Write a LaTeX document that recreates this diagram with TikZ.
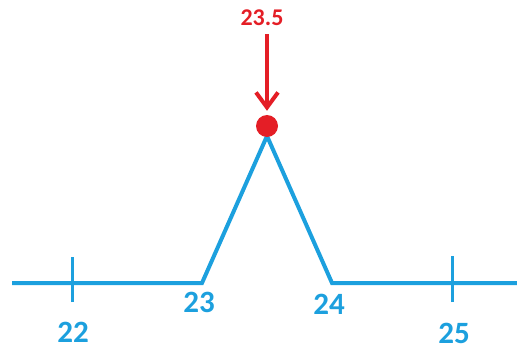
\documentclass[tikz,border=0pt]{standalone}
\usepackage{fontspec}
\setmainfont{Carlito}[BoldFont={Carlito Bold}]
\usetikzlibrary{arrows.meta, positioning}
\definecolor{axisblue}{HTML}{1CA0DE}
\definecolor{markred}{HTML}{E41E26}
\tikzset{
  axis/.style={line width=4pt, axisblue, line join=miter},
  tickmark/.style={line width=3.5pt, axisblue},
  ticklabel/.style={text=axisblue, font=\bfseries\fontsize{31}{33}\selectfont, inner sep=0pt},
  peaklabel/.style={text=markred, font=\bfseries\fontsize{24}{26}\selectfont, inner sep=0pt},
  dotmark/.style={circle, fill=markred, minimum size=22pt, inner sep=0pt},
  arrow/.style={-{Straight Barb[length=15pt, width=22pt]}, line width=4pt, markred},
}
\begin{document}
\begin{tikzpicture}[x=1pt, y=-1pt]
\useasboundingbox (0,0) rectangle (517,350);
% axis with the peak
\coordinate (start) at (12,283);
\coordinate (left) at (202,283);
\coordinate (top) at (267,136);
\coordinate (right) at (332,283);
\coordinate (end) at (517,283);
\draw[axis] (start) -- (left) -- (top) -- (right) -- (end);
% ticks
\coordinate (t22) at (72.5,283);
\coordinate (t25) at (452.5,283);
\draw[tickmark] ([yshift=-19pt]t22) -- ([yshift=26pt]t22);
\draw[tickmark] ([yshift=-19pt]t25) -- ([yshift=27pt]t25);
% labels
\node[ticklabel] (l22) at (73,332) {22};
\node[ticklabel] (l23) at (199,302) {23};
\node[ticklabel] (l24) at (329,304) {24};
\node[ticklabel] (l25) at (454,333) {25};
% peak marker
\node[dotmark] (dot) at (267,126) {};
\node[peaklabel] (val) at (262,18) {23.5};
\draw[arrow, shorten <=8pt, shorten >=4pt] (val.south -| dot) -- (dot);
\end{tikzpicture}
\end{document}
